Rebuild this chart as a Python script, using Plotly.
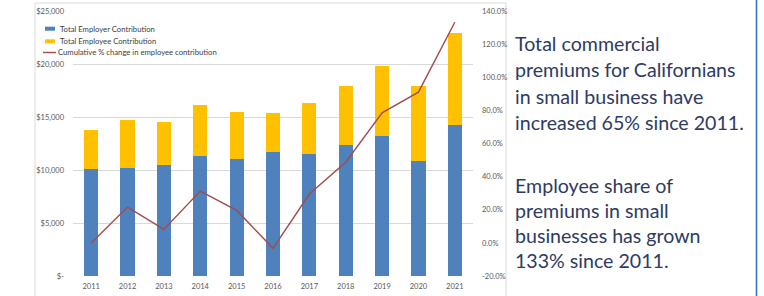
import plotly.graph_objects as go

years = ["2011", "2012", "2013", "2014", "2015", "2016", "2017", "2018", "2019", "2020", "2021"]
employer = [10070, 10190, 10470, 11320, 11040, 11730, 11540, 12360, 13210, 10820, 14210]
total = [13770, 14720, 14500, 16130, 15440, 15350, 16350, 17890, 19840, 17920, 22890]
employee = [t - e for t, e in zip(total, employer)]
cum_pct = [0.0, 21.6, 8.1, 31.3, 19.6, -3.3, 29.5, 48.7, 78.5, 91.0, 133.2]

left_ticks = [0, 5000, 10000, 15000, 20000, 25000]
left_labels = ["$-", "$5,000", "$10,000", "$15,000", "$20,000", "$25,000"]
right_ticks = [-20, 0, 20, 40, 60, 80, 100, 120, 140]
right_labels = [f"{v:.1f}%" for v in right_ticks]

series_names = ["Total Employer Contribution", "Total Employee Contribution",
                "Cumulative % change in employee contribution"]
series_colors = ["#4F81BD", "#FFC000", "#A24B4B"]

para1 = ["Total commercial", "premiums for Californians", "in small business have", "increased 65% since 2011."]
para2 = ["Employee share of", "premiums in small", "businesses has grown", "133% since 2011."]

W, H = 764, 296
L, R, T, B = 73, 473, 11, 276


def px_x(x):
    return (x - L) / (R - L)


def px_y(y):
    return (B - y) / (B - T)


FONT = "Lato, Open Sans, sans-serif"
TICKFONT = dict(family=FONT, size=7.5, color="#595959")

fig = go.Figure()
fig.add_trace(go.Bar(x=years, y=employer, name=series_names[0],
                     marker=dict(color=series_colors[0], line=dict(width=0)), width=0.39))
fig.add_trace(go.Bar(x=years, y=employee, name=series_names[1],
                     marker=dict(color=series_colors[1], line=dict(width=0)), width=0.39))
fig.add_trace(go.Scatter(x=years, y=cum_pct, name=series_names[2],
                         mode="lines", line=dict(color=series_colors[2], width=1.4), yaxis="y2"))

shapes = [
    dict(type="rect", xref="paper", yref="paper", x0=px_x(35), x1=px_x(506), y0=px_y(310), y1=px_y(3),
         line=dict(color="#D9D9D9", width=1), fillcolor="rgba(0,0,0,0)", layer="below"),
    dict(type="line", xref="paper", yref="paper", x0=px_x(756.5), x1=px_x(756.5), y0=px_y(310), y1=px_y(-10),
         line=dict(color="#2E75B6", width=1.6)),
]

annotations = []
# custom legend (matches the compact Excel legend)
leg_y = [28.7, 41.3, 52.5]
for i, (nm, col) in enumerate(zip(series_names, series_colors)):
    if i < 2:
        shapes.append(dict(type="rect", xref="paper", yref="paper",
                           x0=px_x(45), x1=px_x(55), y0=px_y(leg_y[i] + 2), y1=px_y(leg_y[i] - 2),
                           fillcolor=col, line=dict(width=0)))
        tx = 57.5
    else:
        shapes.append(dict(type="line", xref="paper", yref="paper",
                           x0=px_x(43), x1=px_x(56), y0=px_y(leg_y[i]), y1=px_y(leg_y[i]),
                           line=dict(color=col, width=1.4)))
        tx = 55.5
    annotations.append(dict(text=nm, xref="paper", yref="paper", x=px_x(tx), y=px_y(leg_y[i]),
                            xanchor="left", yanchor="middle", showarrow=False,
                            font=dict(family=FONT, size=7.7, color="#404040")))

for i, t in enumerate(para1):
    annotations.append(dict(text=t, xref="paper", yref="paper", x=px_x(513), y=px_y(44 + 26 * i),
                            xanchor="left", yanchor="middle", showarrow=False,
                            font=dict(family=FONT, size=19.6, color="#2E3B62")))
for i, t in enumerate(para2):
    annotations.append(dict(text=t, xref="paper", yref="paper", x=px_x(513), y=px_y(185 + 25 * i),
                            xanchor="left", yanchor="middle", showarrow=False,
                            font=dict(family=FONT, size=19.6, color="#2E3B62")))

fig.update_layout(
    width=W, height=H,
    margin=dict(l=L, r=W - R, t=T, b=H - B, pad=0, autoexpand=False),
    paper_bgcolor="white", plot_bgcolor="white",
    barmode="stack", bargap=0.6,
    showlegend=False,
    xaxis=dict(type="category", showgrid=False, zeroline=False, showline=False, tickfont=TICKFONT,
               ticks="", ticklabelstandoff=4, automargin=False),
    yaxis=dict(range=[0, 25000], tickvals=left_ticks, ticktext=left_labels, showgrid=True,
               gridcolor="#D9D9D9", gridwidth=1, zeroline=False, showline=False, tickfont=TICKFONT,
               ticklabelstandoff=8, automargin=False),
    yaxis2=dict(range=[-20, 140], tickvals=right_ticks, ticktext=right_labels, overlaying="y", side="right",
                showgrid=False, zeroline=False, showline=False, tickfont=TICKFONT, ticklabelstandoff=8,
                automargin=False),
    shapes=shapes,
    annotations=annotations,
)

fig.write_html("out.html", config={"displayModeBar": False},
               post_script="document.body.style.margin='0';document.body.style.overflow='hidden';")
